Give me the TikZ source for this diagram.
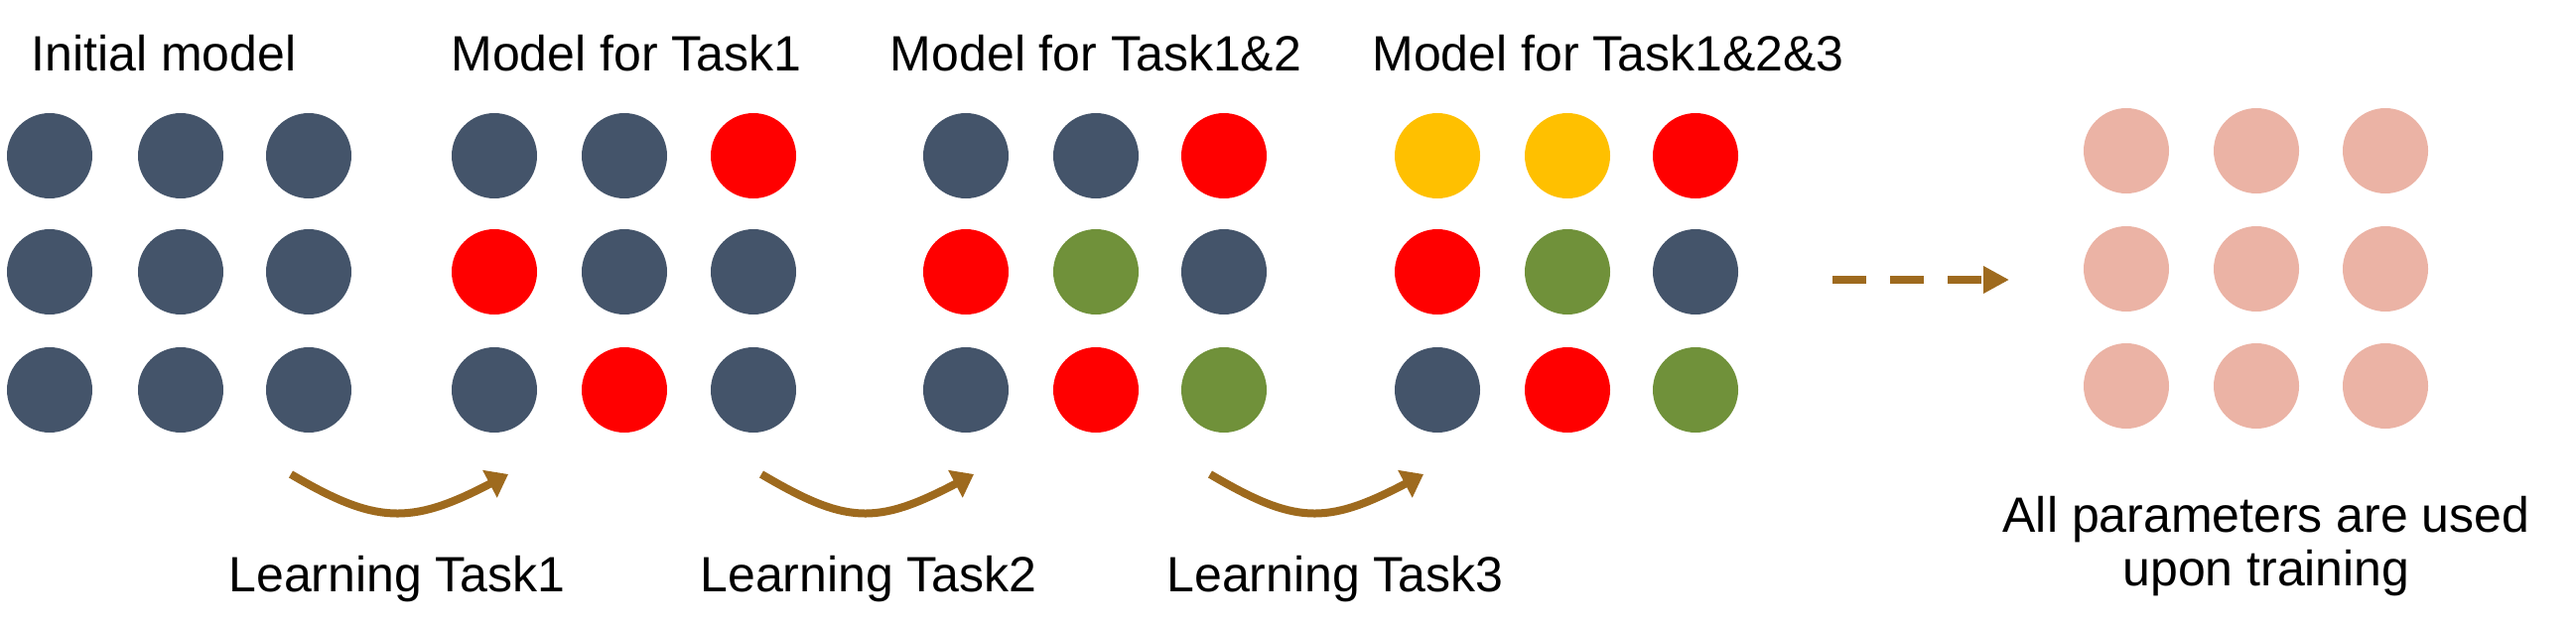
\documentclass[tikz,border=0pt]{standalone}
\usepackage{fontspec}
\setmainfont{Liberation Sans}
\usetikzlibrary{arrows.meta}
\definecolor{slate}{HTML}{44546A}
\definecolor{pred}{HTML}{FF0000}
\definecolor{pgreen}{HTML}{70913A}
\definecolor{pyellow}{HTML}{FFC000}
\definecolor{ppink}{HTML}{EBB3A5}
\definecolor{arrowbrown}{HTML}{9E6A1E}
\newcommand\dotgrid[8]{%
  \foreach \c [count=\k from 0] in {#8} {%
    \pgfmathtruncatemacro\rr{div(\k,3)}%
    \pgfmathtruncatemacro\qq{mod(\k,3)}%
    \pgfmathsetmacro\xx{{#2,#3,#4}[\qq]}%
    \pgfmathsetmacro\yy{{#5,#6,#7}[\rr]}%
    \node[dot, fill=\c] (#1-\rr-\qq) at (\xx,\yy) {};
  }%
}
\begin{document}
\begin{tikzpicture}[x=1pt,y=-1pt,
  dot/.style={circle, inner sep=0pt, minimum size=86pt, draw=none},
  lbl/.style={font=\fontsize{50pt}{55pt}\selectfont, inner sep=0pt, anchor=base},
  curvearrow/.style={draw=arrowbrown, line width=8pt, -{Triangle[length=21pt,width=30pt]}},
  dasharrow/.style={draw=arrowbrown, line width=8pt, dash pattern=on 34pt off 24pt, -{Triangle[length=26pt,width=26pt]}}]
\useasboundingbox (0,0) rectangle (2595,634);
\fill[white] (0,0) rectangle (2595,634);
% grids
\dotgrid{ga}{50}{182}{311}{157}{274}{393}{slate,slate,slate,slate,slate,slate,slate,slate,slate}
\dotgrid{gb}{498}{629}{759}{157}{274}{393}{slate,slate,pred,pred,slate,slate,slate,pred,slate}
\dotgrid{gc}{973}{1104}{1233}{157}{274}{393}{slate,slate,pred,pred,pgreen,slate,slate,pred,pgreen}
\dotgrid{gd}{1448}{1579}{1708}{157}{274}{393}{pyellow,pyellow,pred,pred,pgreen,slate,slate,pred,pgreen}
\dotgrid{ge}{2142}{2273}{2403}{152}{271}{389}{ppink,ppink,ppink,ppink,ppink,ppink,ppink,ppink,ppink}
% titles
\node[lbl] (ta) at (165,71) {Initial model};
\node[lbl] (tb) at (631,71) {Model for Task1};
\node[lbl] (tc) at (1104,71) {Model for Task1\&2};
\node[lbl] (td) at (1620,71) {Model for Task1\&2\&3};
% learning labels
\node[lbl] (la) at (400,596) {Learning Task1};
\node[lbl] (lb) at (875,596) {Learning Task2};
\node[lbl] (lc) at (1345,596) {Learning Task3};
\node[lbl] (fa) at (2283,536) {All parameters are used};
\node[lbl] (fb) at (2283,590) {upon training};
% arrows
\coordinate (a1s) at (293,478); \coordinate (a1e) at (512,478);
\coordinate (a2s) at (767,478); \coordinate (a2e) at (981,478);
\coordinate (a3s) at (1219,478); \coordinate (a3e) at (1434,478);
\draw[curvearrow] (a1s) .. controls +(85,50) and +(-99,52) .. (a1e);
\draw[curvearrow] (a2s) .. controls +(85,50) and +(-99,52) .. (a2e);
\draw[curvearrow] (a3s) .. controls +(85,50) and +(-99,52) .. (a3e);
\coordinate (ds) at (1846,282); \coordinate (de) at (2024,282);
\draw[dasharrow] (ds) -- (de);
\end{tikzpicture}
\end{document}
